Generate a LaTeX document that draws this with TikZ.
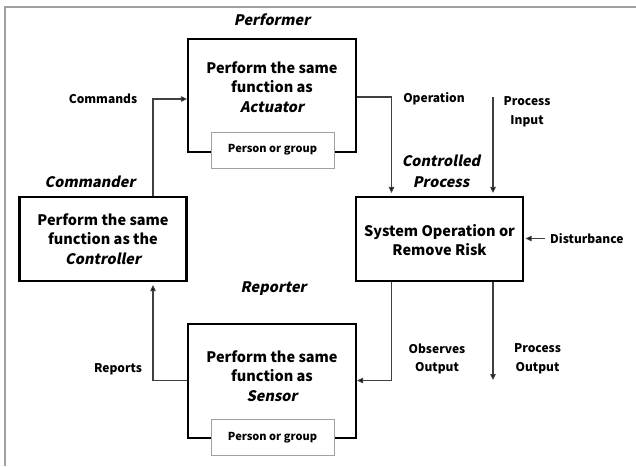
\documentclass[tikz,border=0pt]{standalone}
\usepackage{fontspec}
\setmainfont{Noto Sans CJK KR}
\newfontfamily\slfont{Noto Sans CJK KR}[FakeSlant=0.2]
\usetikzlibrary{arrows.meta,positioning}
\definecolor{frame}{HTML}{A0A0A0}
\definecolor{conn}{HTML}{404040}
\tikzset{
  mainbox/.style={draw=black,line width=2.2pt,fill=white,inner sep=0pt},
  personbox/.style={draw=frame,line width=0.9pt,fill=white,minimum width=123pt,minimum height=36pt,inner sep=0pt,font=\bfseries\fontsize{11}{13}\selectfont},
  boxtext/.style={align=center,font=\bfseries\fontsize{14.5}{19.5}\selectfont,inner sep=0pt},
  role/.style={font=\slfont\bfseries\fontsize{14.5}{21}\selectfont,inner sep=0pt,align=center},
  lab/.style={font=\bfseries\fontsize{12}{18.5}\selectfont,align=center,inner sep=0pt},
  conn/.style={draw=conn,line width=1.1pt},
  arr/.style={conn,-{Triangle[length=6pt,width=5.5pt,fill=black]}},
}
\begin{document}
\begin{tikzpicture}[x=1pt,y=-1pt]
\useasboundingbox (0,0) rectangle (636,466);
% frame
\draw[frame,line width=1.6pt] (5,466) -- (5,7) -- (636,7);

% Performer
\node[role] (perfl) at (272,20) {Performer};
\node[mainbox,minimum width=168pt,minimum height=113pt] (perf) at (272,95.5) {};
\node[boxtext] (perft) at (272,87) {Perform the same\\function as\\{\slfont Actuator}};
\node[personbox] (perfp) at (272.5,150) {Person or group};

% Commander
\node[role] (cmdl) at (90,182) {Commander};
\node[mainbox,minimum width=167pt,minimum height=84pt] (cmd) at (103,239) {};
\node[boxtext] (cmdt) at (103,239) {Perform the same\\function as the\\{\slfont Controller}};

% Controlled process
\node[role] (cpl) at (441,171.5) {Controlled\\Process};
\node[mainbox,minimum width=167pt,minimum height=84pt] (cp) at (439.5,239) {};
\node[boxtext] (cpt) at (439.5,240) {System Operation or\\Remove Risk};

% Reporter
\node[role] (repl) at (273.5,289) {Reporter};
\node[mainbox,minimum width=168pt,minimum height=114pt] (rep) at (272,381) {};
\node[boxtext] (rept) at (272,376) {Perform the same\\function as\\{\slfont Sensor}};
\node[personbox] (repp) at (272.5,437.5) {Person or group};

% coordinates
\coordinate (cx) at (153,99);
\coordinate (opx) at (391.5,97);
\coordinate (pin) at (493,97);
\coordinate (dist) at (545,238.5);
\coordinate (obs) at (391.5,380.5);
\coordinate (pout) at (493,380);

% connectors
\draw[arr] (cmd.north -| cx) |- (perf.west |- cx);
\draw[arr,shorten >=3pt] (perf.east |- opx) -| (cp.north -| opx);
\draw[arr,shorten >=3pt] (pin) -- (cp.north -| pin);
\draw[arr,shorten >=1.5pt] (dist) -- (cp.east |- dist);
\draw[arr] (cp.south -| obs) |- (rep.east |- obs);
\draw[arr] (cp.south -| pout) -- (pout);
\draw[arr,shorten >=3pt] (rep.west |- obs) -| (cmd.south -| cx);

% labels
\node[lab] (lcmd) at (103,99) {Commands};
\node[lab] (lop) at (434,99) {Operation};
\node[lab] (lpin) at (527,112) {Process\\Input};
\node[lab,anchor=west] (ldist) at (550,239) {Disturbance};
\node[lab] (lrep) at (118,369.5) {Reports};
\node[lab] (lobs) at (437,359) {Observes\\Output};
\node[lab] (lpout) at (537.5,359) {Process\\Output};
\end{tikzpicture}
\end{document}
